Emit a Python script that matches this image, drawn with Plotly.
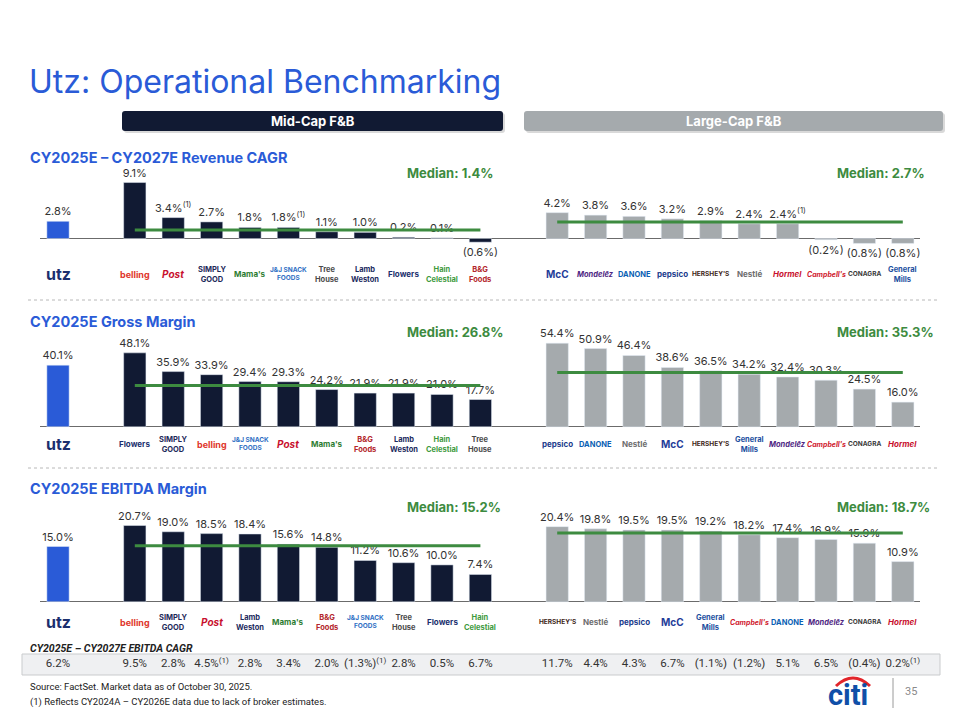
import plotly.graph_objects as go

# the page puts the plot 8px in from the top-left corner, so the figure is
# drawn 8px smaller and every pixel position below is shifted by that amount
PAD = 8
W, H = 960 - PAD, 720 - PAD

# ---- data ----
utz_rev, utz_gm, utz_eb, utz_cagr = 2.8, 40.1, 15.0, 6.2

rev_mid_names = ["belling", "Post", "Simply Good", "Mama's", "J&J Snack Foods",
                 "TreeHouse", "Lamb Weston", "Flowers", "Hain Celestial", "B&G Foods"]
rev_mid_vals = [9.1, 3.4, 2.7, 1.8, 1.8, 1.1, 1.0, 0.2, 0.1, -0.6]
rev_mid_notes = [0, 1, 0, 0, 1, 0, 0, 0, 0, 0]
rev_lg_names = ["McCormick", "Mondelez", "Danone", "PepsiCo", "Hershey",
                "Nestle", "Hormel", "Campbell's", "Conagra", "General Mills"]
rev_lg_vals = [4.2, 3.8, 3.6, 3.2, 2.9, 2.4, 2.4, -0.2, -0.8, -0.8]
rev_lg_notes = [0, 0, 0, 0, 0, 0, 1, 0, 0, 0]
rev_medians = [1.4, 2.7]

gm_mid_names = ["Flowers", "Simply Good", "belling", "J&J Snack Foods", "Post",
                "Mama's", "B&G Foods", "Lamb Weston", "Hain Celestial", "TreeHouse"]
gm_mid_vals = [48.1, 35.9, 33.9, 29.4, 29.3, 24.2, 21.9, 21.9, 21.0, 17.7]
gm_lg_names = ["PepsiCo", "Danone", "Nestle", "McCormick", "Hershey",
               "General Mills", "Mondelez", "Campbell's", "Conagra", "Hormel"]
gm_lg_vals = [54.4, 50.9, 46.4, 38.6, 36.5, 34.2, 32.4, 30.3, 24.5, 16.0]
gm_medians = [26.8, 35.3]

eb_mid_names = ["belling", "Simply Good", "Post", "Lamb Weston", "Mama's",
                "B&G Foods", "J&J Snack Foods", "TreeHouse", "Flowers", "Hain Celestial"]
eb_mid_vals = [20.7, 19.0, 18.5, 18.4, 15.6, 14.8, 11.2, 10.6, 10.0, 7.4]
eb_lg_names = ["Hershey", "Nestle", "PepsiCo", "McCormick", "General Mills",
               "Campbell's", "Danone", "Mondelez", "Conagra", "Hormel"]
eb_lg_vals = [20.4, 19.8, 19.5, 19.5, 19.2, 18.2, 17.4, 16.9, 15.9, 10.9]
eb_medians = [15.2, 18.7]

# EBITDA CAGR row follows the EBITDA margin ordering
cagr_mid_vals = [9.5, 2.8, 4.5, 2.8, 3.4, 2.0, -1.3, 2.8, 0.5, 6.7]
cagr_mid_notes = [0, 0, 1, 0, 0, 0, 1, 0, 0, 0]
cagr_lg_vals = [11.7, 4.4, 4.3, 6.7, -1.1, -1.2, 5.1, 6.5, -0.4, 0.2]
cagr_lg_notes = [0, 0, 0, 0, 0, 0, 0, 0, 0, 1]

# stand-in text for the company logos: (label, colour, size)
brand = {
    "Utz": ("utz", "#1b2f6e", 16),
    "belling": ("belling", "#e0362c", 9),
    "Post": ("<i>Post</i>", "#c8102e", 10),
    "Simply Good": ("SIMPLY<br>GOOD", "#1d2a5a", 7.5),
    "Mama's": ("Mama's", "#2e7d32", 8),
    "J&J Snack Foods": ("J&J SNACK<br>FOODS", "#2f6fc4", 6.5),
    "TreeHouse": ("Tree<br>House", "#4a4a4a", 7.5),
    "Lamb Weston": ("Lamb<br>Weston", "#1b2a5e", 7.5),
    "Flowers": ("Flowers", "#1b2f6e", 8),
    "Hain Celestial": ("Hain<br>Celestial", "#3d9a3d", 7.5),
    "B&G Foods": ("B&G<br>Foods", "#b3262b", 7.5),
    "McCormick": ("McC", "#1f3d99", 10),
    "Mondelez": ("<i>Mondelēz</i>", "#4f2683", 7.5),
    "Danone": ("DANONE", "#0a5fb4", 7.5),
    "PepsiCo": ("pepsico", "#1b3b8c", 8),
    "Hershey": ("HERSHEY'S", "#3e2417", 6.5),
    "Nestle": ("Nestlé", "#6e6e6e", 8),
    "Hormel": ("<i>Hormel</i>", "#c8102e", 8),
    "Campbell's": ("<i>Campbell's</i>", "#d0202e", 7),
    "Conagra": ("CONAGRA", "#3a3a3a", 6.5),
    "General Mills": ("General<br>Mills", "#1c4fa0", 7.5),
}

# ---- styling ----
FONT = "Inter, Roboto, Arial"
NARROW = "Liberation Sans Narrow, Roboto, Arial"
BLUE = "#2a5bd7"
NAVY = "#111a33"
GREY = "#a5aaad"
GREEN = "#3d8b40"
TXT = "#333333"

utz_x = [0]
mid_x = [2 + i for i in range(10)]
lg_x = [13 + i for i in range(10)]


def fx(px):
    return (px - PAD) / W


def fy(py):
    return 1 - (py - PAD) / H


XR = [(40 - 58) / 38.4, (920 - 58) / 38.4]
XD = [fx(40), fx(920)]


def fmt(v, note=0):
    s = f"{abs(v):.1f}%"
    if v < 0:
        s = f"({s})"
    if note:
        s += "<sup>(1)</sup>"
    return s


def yaxis_geom(top, bottom, base, ppu):
    return dict(domain=[fy(bottom), fy(top)],
                range=[(base - bottom) / ppu, (base - top) / ppu])


panels = [
    dict(title="CY2025E – CY2027E Revenue CAGR", ty=157, my=173, ly=274,
         geom=yaxis_geom(170, 255, 238.5, 6.15),
         utz=utz_rev, mid=(rev_mid_names, rev_mid_vals, rev_mid_notes),
         lg=(rev_lg_names, rev_lg_vals, rev_lg_notes), med=rev_medians),
    dict(title="CY2025E Gross Margin", ty=321, my=332, ly=444,
         geom=yaxis_geom(335, 432, 426.7, 1.535),
         utz=utz_gm, mid=(gm_mid_names, gm_mid_vals, [0] * 10),
         lg=(gm_lg_names, gm_lg_vals, [0] * 10), med=gm_medians),
    dict(title="CY2025E EBITDA Margin", ty=488, my=507, ly=622,
         geom=yaxis_geom(512, 607, 601.7, 3.68),
         utz=utz_eb, mid=(eb_mid_names, eb_mid_vals, [0] * 10),
         lg=(eb_lg_names, eb_lg_vals, [0] * 10), med=eb_medians),
]

fig = go.Figure()
annotations = []
shapes = []
layout_axes = {}

for k, p in enumerate(panels, start=1):
    xa = "x" if k == 1 else f"x{k}"
    ya = "y" if k == 1 else f"y{k}"
    bar_common = dict(xaxis=xa, yaxis=ya, width=0.58, textposition="outside",
                      textfont=dict(family=FONT, size=11, color=TXT),
                      constraintext="none", cliponaxis=False, hoverinfo="skip")
    fig.add_trace(go.Bar(x=utz_x, y=[p["utz"]], text=[fmt(p["utz"])],
                         marker_color=BLUE, **bar_common))
    names, vals, notes = p["mid"]
    fig.add_trace(go.Bar(x=mid_x, y=vals, text=[fmt(v, n) for v, n in zip(vals, notes)],
                         marker_color=NAVY, **bar_common))
    lnames, lvals, lnotes = p["lg"]
    fig.add_trace(go.Bar(x=lg_x, y=lvals, text=[fmt(v, n) for v, n in zip(lvals, lnotes)],
                         marker_color=GREY, **bar_common))
    # median lines
    for xs, m in ((mid_x, p["med"][0]), (lg_x, p["med"][1])):
        fig.add_trace(go.Scatter(x=[xs[0], xs[-1]], y=[m, m], mode="lines",
                                 line=dict(color=GREEN, width=3),
                                 xaxis=xa, yaxis=ya, hoverinfo="skip"))
    for left, m in ((405, p["med"][0]), (835, p["med"][1])):
        annotations.append(dict(x=fx(left), y=fy(p["my"]), xref="paper", yref="paper",
                                xanchor="left", yanchor="middle", showarrow=False,
                                text=f"<b>Median: {m:.1f}%</b>",
                                font=dict(family=FONT, size=13, color=GREEN)))
    annotations.append(dict(x=fx(28), y=fy(p["ty"]), xref="paper", yref="paper",
                            xanchor="left", yanchor="middle", showarrow=False,
                            text=f"<b>{p['title']}</b>",
                            font=dict(family=FONT, size=14.5, color=BLUE)))
    # logo stand-ins
    for xpos, nm in zip(utz_x + mid_x + lg_x, ["Utz"] + names + lnames):
        label, col, size = brand[nm]
        annotations.append(dict(x=xpos, y=fy(p["ly"]), xref="x", yref="paper",
                                xanchor="center", yanchor="middle", showarrow=False,
                                text=f"<b>{label}</b>",
                                font=dict(family=FONT, size=size, color=col)))
    layout_axes[f"xaxis{'' if k == 1 else k}"] = dict(
        domain=XD, range=XR, visible=False, anchor=ya)
    layout_axes[f"yaxis{'' if k == 1 else k}"] = dict(
        **p["geom"], anchor=xa, showgrid=False, showticklabels=False, ticks="",
        zeroline=True, zerolinecolor="#6b6b6b", zerolinewidth=1.3)

# EBITDA CAGR strip
cagr_text = [fmt(utz_cagr)] + [fmt(v, n) for v, n in zip(cagr_mid_vals, cagr_mid_notes)] \
    + [fmt(v, n) for v, n in zip(cagr_lg_vals, cagr_lg_notes)]
fig.add_trace(go.Scatter(x=utz_x + mid_x + lg_x, y=[0.5] * 21, mode="text",
                         text=cagr_text, textposition="middle center",
                         textfont=dict(family=NARROW, size=11.5, color=TXT),
                         xaxis="x4", yaxis="y4", cliponaxis=False, hoverinfo="skip"))
layout_axes["xaxis4"] = dict(domain=XD, range=XR, visible=False, anchor="y4")
layout_axes["yaxis4"] = dict(domain=[fy(675), fy(654)], range=[0, 1], visible=False,
                             anchor="x4")

shapes.append(dict(type="rect", xref="paper", yref="paper", layer="below",
                   x0=fx(22), x1=fx(940), y0=fy(675), y1=fy(654),
                   fillcolor="#eff0f2", line=dict(color="#c9cbcd", width=1)))
annotations.append(dict(x=fx(28), y=fy(648), xref="paper", yref="paper",
                        xanchor="left", yanchor="middle", showarrow=False,
                        text="<b><i>CY2025E – CY2027E EBITDA CAGR</i></b>",
                        font=dict(family=NARROW, size=10.5, color="#222222")))

# dotted separators between panels
for py in (300, 468):
    shapes.append(dict(type="line", xref="paper", yref="paper",
                       x0=fx(28), x1=fx(940), y0=fy(py), y1=fy(py),
                       line=dict(color="#b8b8b8", width=1, dash="dot")))


def rrect(x0, y0, x1, y1, r=3):
    a, b, c, d = fx(x0), fx(x1), fy(y0), fy(y1)
    rx, ry = r / W, r / H
    return (f"M {a + rx},{c} L {b - rx},{c} Q {b},{c} {b},{c - ry} "
            f"L {b},{d + ry} Q {b},{d} {b - rx},{d} L {a + rx},{d} "
            f"Q {a},{d} {a},{d + ry} L {a},{c - ry} Q {a},{c} {a + rx},{c} Z")


# header pills
for (x0, x1, col, label) in ((122, 503, NAVY, "Mid-Cap F&B"),
                             (524, 943, GREY, "Large-Cap F&B")):
    shapes.append(dict(type="path", xref="paper", yref="paper",
                       path=rrect(x0 + 2, 113, x1 + 2, 133), fillcolor="#bfbfbf",
                       opacity=0.6, line=dict(width=0)))
    shapes.append(dict(type="path", xref="paper", yref="paper",
                       path=rrect(x0, 111, x1, 131), fillcolor=col, line=dict(width=0)))
    annotations.append(dict(x=fx((x0 + x1) / 2), y=fy(121), xref="paper", yref="paper",
                            xanchor="center", yanchor="middle", showarrow=False,
                            text=f"<b>{label}</b>",
                            font=dict(family=FONT, size=13, color="white")))

# slide title
annotations.append(dict(x=fx(27), y=fy(82), xref="paper", yref="paper",
                        xanchor="left", yanchor="middle", showarrow=False,
                        text="Utz: Operational Benchmarking",
                        font=dict(family=FONT, size=32, color=BLUE)))

# footnotes
for py, txt in ((686, "Source: FactSet. Market data as of October 30, 2025."),
                (702, "(1) Reflects CY2024A – CY2026E data due to lack of broker estimates.")):
    annotations.append(dict(x=fx(28), y=fy(py), xref="paper", yref="paper",
                            xanchor="left", yanchor="middle", showarrow=False, text=txt,
                            font=dict(family=NARROW, size=9.5, color="#222222")))

# citi mark and page number
annotations.append(dict(x=fx(848), y=fy(695), xref="paper", yref="paper",
                        xanchor="center", yanchor="middle", showarrow=False,
                        text="<b>citi</b>",
                        font=dict(family="Roboto, Arial", size=29, color="#0f4fa8")))
shapes.append(dict(type="path", xref="paper", yref="paper",
                   path=f"M {fx(836)},{fy(686)} Q {fx(853)},{fy(670)} {fx(870)},{fy(686)}",
                   line=dict(color="#e2252b", width=3)))
shapes.append(dict(type="line", xref="paper", yref="paper",
                   x0=fx(893), x1=fx(893), y0=fy(678), y1=fy(708),
                   line=dict(color="#9a9a9a", width=1)))
annotations.append(dict(x=fx(911), y=fy(691), xref="paper", yref="paper",
                        xanchor="center", yanchor="middle", showarrow=False, text="35",
                        font=dict(family=NARROW, size=11, color="#8a8a8a")))

fig.update_layout(
    width=W, height=H, margin=dict(l=0, r=0, t=0, b=0),
    paper_bgcolor="white", plot_bgcolor="white", showlegend=False,
    barmode="overlay",
    annotations=annotations, shapes=shapes, **layout_axes,
)

fig.write_html("out.html")
